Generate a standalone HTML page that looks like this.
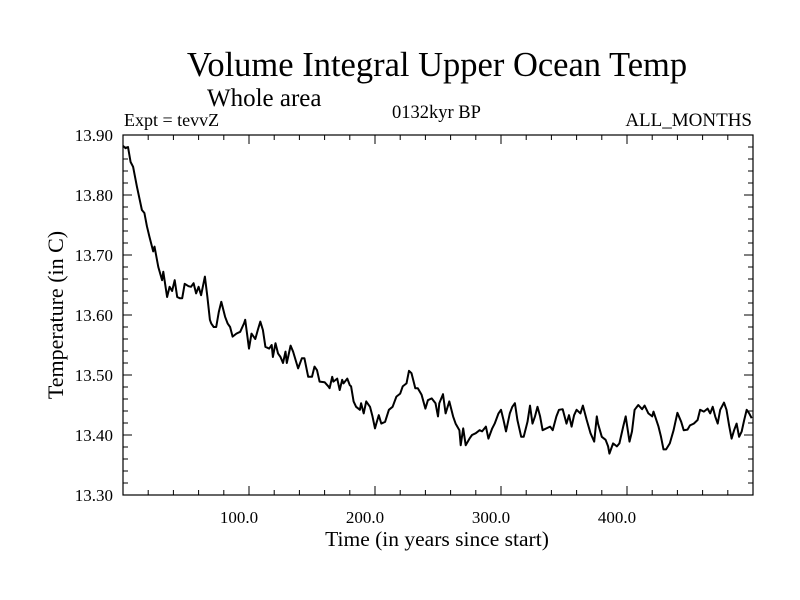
<!DOCTYPE html>
<html><head><meta charset="utf-8"><style>
html,body{margin:0;padding:0;background:#fff;}
svg{display:block;font-family:"Liberation Serif",serif;}
</style></head><body>
<svg id="chart" width="800" height="600" xmlns="http://www.w3.org/2000/svg">
<rect width="800" height="600" fill="#fff"/>
<text x="437" y="76" font-size="34.5" text-anchor="middle">Volume Integral Upper Ocean Temp</text>
<text x="207" y="106" font-size="25">Whole area</text>
<text x="124" y="126" font-size="18">Expt = tevvZ</text>
<text x="392" y="118" font-size="18.5">0132kyr BP</text>
<text x="752" y="126" font-size="19" text-anchor="end">ALL_MONTHS</text>
<text x="437" y="546" font-size="21.5" text-anchor="middle">Time (in years since start)</text>
<text transform="translate(63,315) rotate(-90)" font-size="22" text-anchor="middle">Temperature (in C)</text>
<g id="axes"></g>
<path id="series" fill="none" stroke="#000" stroke-width="2" stroke-linejoin="round"/>
<rect x="123" y="135" width="630" height="360" fill="none" stroke="#000" stroke-width="1.2"/>
</svg>
<script>
const years=[0,2,4,6,8,11,15,17,19,21,24,25,28,31,32,35,37,39,41,43,45,47,49,52,54,56,58,60,62,65,67,69,70,72,74,76,78,81,83,85,87,90,93,96,97,100,102,105,107,109,111,113,116,118,119,121,123,125,127,129,130,133,135,137,139,142,144,147,150,152,154,156,160,163,164,166,167,170,172,174,175,178,180,181,183,185,188,189,191,193,196,198,200,201,203,205,208,211,214,217,220,222,225,227,229,232,234,237,240,242,245,248,250,
251,254,256,259,262,264,267,268,270,272,275,277,280,283,285,288,290,293,295,298,300,302,304,307,309,311,313,316,318,321,323,325,327,329,331,333,336,339,341,344,346,349,352,354,356,358,360,363,365,368,371,374,376,377,380,383,385,386,389,392,394,397,399,402,404,406,409,412,414,417,420,421,425,427,429,431,434,437,440,443,445,448,450,453,456,458,461,464,466,468,470,472,474,477,479,481,483,485,487,489,491,493,495,497,499];
const temps=[13.882,13.878,13.88,13.855,13.847,13.814,13.775,13.77,13.748,13.73,13.706,13.714,13.68,13.658,13.672,13.63,13.647,13.64,13.658,13.63,13.628,13.628,13.652,13.648,13.647,13.653,13.636,13.647,13.633,13.664,13.63,13.592,13.586,13.58,13.58,13.605,13.622,13.597,13.586,13.58,13.564,13.569,13.572,13.586,13.592,13.544,13.569,13.56,13.575,13.589,13.575,13.547,13.544,13.55,13.53,13.553,13.536,13.53,13.52,13.539,13.52,13.549,13.539,13.525,13.511,13.528,13.528,13.497,13.497,13.514,13.508,13.489,13.488,13.481,13.478,13.497,13.489,13.494,13.475,13.492,13.486,13.494,13.483,13.481,13.456,13.447,13.442,13.453,13.436,13.456,13.447,13.431,13.411,13.419,13.433,13.419,13.422,13.442,13.447,13.464,13.469,13.481,13.486,13.507,13.503,13.478,13.478,13.467,13.444,13.458,13.461,13.453,13.431,
13.453,13.468,13.436,13.456,13.431,13.419,13.408,13.383,13.411,13.383,13.394,13.4,13.403,13.408,13.406,13.414,13.394,13.411,13.419,13.436,13.442,13.425,13.406,13.436,13.447,13.453,13.425,13.397,13.397,13.422,13.449,13.419,13.431,13.447,13.431,13.408,13.411,13.414,13.408,13.431,13.442,13.443,13.419,13.433,13.414,13.433,13.442,13.436,13.449,13.425,13.403,13.389,13.431,13.419,13.397,13.392,13.381,13.369,13.386,13.381,13.386,13.414,13.431,13.389,13.406,13.442,13.45,13.443,13.449,13.436,13.431,13.439,13.414,13.397,13.376,13.376,13.386,13.408,13.437,13.422,13.408,13.409,13.416,13.419,13.425,13.442,13.439,13.444,13.436,13.447,13.431,13.419,13.442,13.454,13.442,13.416,13.394,13.408,13.419,13.397,13.406,13.425,13.442,13.436,13.428];
const xTicks=[100,200,300,400];
const xTickLabels=["100.0","200.0","300.0","400.0"];
const yTicks=[13.30,13.40,13.50,13.60,13.70,13.80,13.90];
const yTickLabels=["13.30","13.40","13.50","13.60","13.70","13.80","13.90"];
const X0=123,W=630,Y0=135,H=360,XMIN=0,XMAX=500,YMIN=13.30,YMAX=13.90;
function xs(v){return X0+(v-XMIN)/(XMAX-XMIN)*W;}
function ys(v){return Y0+(YMAX-v)/(YMAX-YMIN)*H;}
const NS="http://www.w3.org/2000/svg";
const g=document.getElementById('axes');
function line(x1,y1,x2,y2,name){const l=document.createElementNS(NS,'line');
l.setAttribute('x1',x1);l.setAttribute('y1',y1);l.setAttribute('x2',x2);l.setAttribute('y2',y2);
l.setAttribute('stroke','#000');l.setAttribute('stroke-width','1');


g.appendChild(l);}
function text(x,y,s,anchor,name){const t=document.createElementNS(NS,'text');
t.setAttribute('x',x);t.setAttribute('y',y);t.setAttribute('font-size','17');t.setAttribute('text-anchor',anchor);t.textContent=s;


g.appendChild(t);}
for(let v=20;v<XMAX;v+=20){const x=xs(v);const major=v%100===0;const L=major?9:5;
line(x,Y0+H,x,Y0+H-L,'x-tick');line(x,Y0,x,Y0+L,'x-tick-top');}
for(let i=0;i<=30;i++){const v=YMIN+i*0.02;const y=ys(v);const major=i%5===0;const L=major?9:5;
line(X0,y,X0+L,y,'y-tick');line(X0+W,y,X0+W-L,y,'y-tick-right');}
xTicks.forEach((v,i)=>text(xs(v)-10,523,xTickLabels[i],'middle','x-tick-label'));
yTicks.forEach((v,i)=>text(113,ys(v)+6,yTickLabels[i],'end','y-tick-label'));
let d='';years.forEach((yr,i)=>{d+=(i?'L':'M')+xs(yr).toFixed(1)+','+ys(temps[i]).toFixed(1);});
document.getElementById('series').setAttribute('d',d);
</script>
</body></html>
